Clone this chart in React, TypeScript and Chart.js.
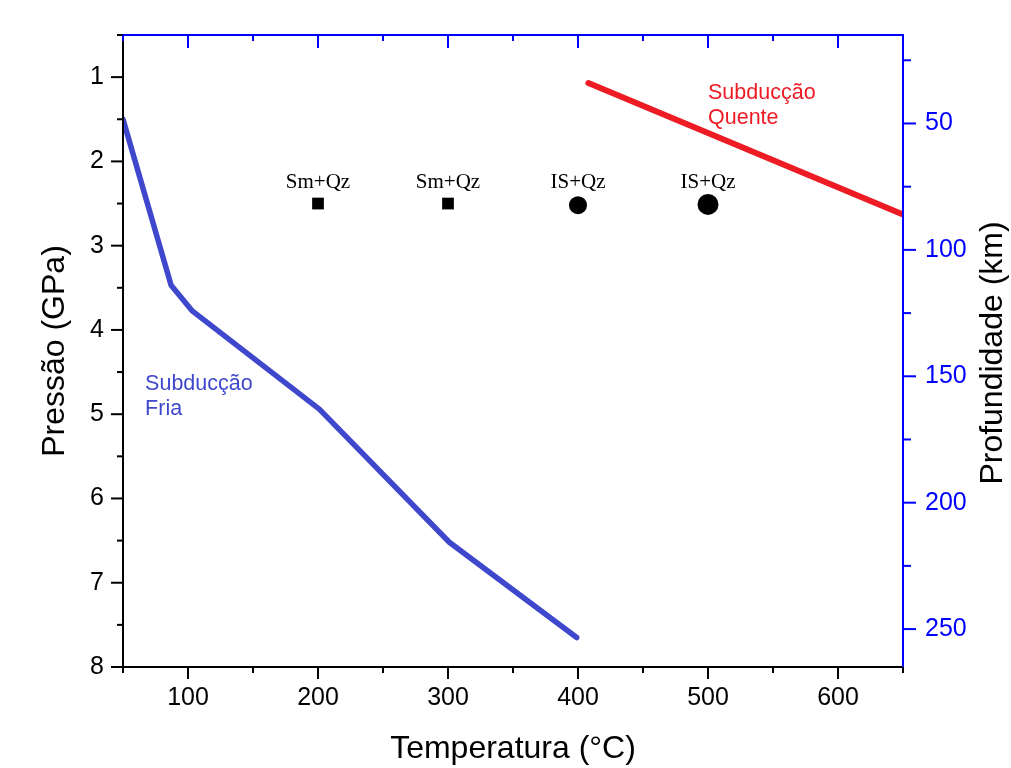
import React, { useEffect, useRef } from 'react';
import { Chart, registerables } from 'chart.js';

Chart.register(...registerables);

// ---- data ----
const COLD_TEMP = [50, 87, 103, 201, 301, 399];
const COLD_PRESSURE = [1.5, 3.47, 3.77, 4.94, 6.52, 7.65];
const HOT_TEMP = [408, 650];
const HOT_PRESSURE = [1.07, 2.63];
const SM_TEMP = [200, 300];
const SM_PRESSURE = [2.5, 2.5];
const IS_TEMP = [400, 500];
const IS_PRESSURE = [2.52, 2.51];
const SM_LABEL = 'Sm+Qz';
const IS_LABEL = 'IS+Qz';
const COLD_NOTE = ['Subducção', 'Fria'];
const HOT_NOTE = ['Subducção', 'Quente'];
const COLD_NOTE_AT = { t: 67, p: 4.71 };
const HOT_NOTE_AT = { t: 500, p: 1.265 };

// ---- ticks ----
const X_TICKS = [100, 200, 300, 400, 500, 600];
const X_MINOR = [50, 150, 250, 350, 450, 550, 650];
const P_TICKS = [1, 2, 3, 4, 5, 6, 7, 8];
const P_MINOR = [0.5, 1.5, 2.5, 3.5, 4.5, 5.5, 6.5, 7.5];
const DEPTH_TICKS = [50, 100, 150, 200, 250];
const DEPTH_MINOR = [25, 75, 125, 175, 225];

const X_TITLE = 'Temperatura (°C)';
const Y_TITLE = 'Pressão (GPa)';
const Y2_TITLE = 'Profundidade (km)';

const BLUE_AXIS = '#0000FF';
const COLD_COLOR = '#3F48CC';
const HOT_COLOR = '#ED1C24';
const SANS = "'Liberation Sans', Arial, sans-serif";
const SERIF = "'Liberation Serif', 'Times New Roman', serif";

const toXY = (xs: number[], ys: number[]) => xs.map((v, i) => ({ x: v, y: ys[i] }));

const decorPlugin = {
  id: 'decor',
  afterDatasetsDraw(chart: any) {
    const { ctx, chartArea, scales } = chart;
    const { left, right, top, bottom } = chartArea;
    const x = scales.x;
    const y = scales.y;
    const y2 = scales.y2;
    ctx.save();
    const line = (x1: number, y1: number, x2: number, y2_: number, color: string, w = 2) => {
      ctx.strokeStyle = color;
      ctx.lineWidth = w;
      ctx.beginPath();
      ctx.moveTo(x1, y1);
      ctx.lineTo(x2, y2_);
      ctx.stroke();
    };
    // axis lines
    line(left, top, left, bottom + 1, '#000');
    line(left - 1, bottom, right, bottom, '#000');
    line(left - 1, top, right + 1, top, BLUE_AXIS);
    line(right, top, right, bottom, BLUE_AXIS);
    // left ticks
    P_TICKS.forEach((v) => { const p = y.getPixelForValue(v); line(left - 12, p, left, p, '#000'); });
    P_MINOR.forEach((v) => { const p = y.getPixelForValue(v); line(left - 6, p, left, p, '#000'); });
    // bottom ticks
    X_TICKS.forEach((v) => { const p = x.getPixelForValue(v); line(p, bottom, p, bottom + 12, '#000'); });
    X_MINOR.forEach((v) => { const p = x.getPixelForValue(v); line(p, bottom, p, bottom + 6, '#000'); });
    // top ticks (inward)
    X_TICKS.forEach((v) => { const p = x.getPixelForValue(v); line(p, top, p, top + 13, BLUE_AXIS); });
    X_MINOR.forEach((v) => { const p = x.getPixelForValue(v); line(p, top, p, top + 6, BLUE_AXIS); });
    // right ticks (outward)
    DEPTH_TICKS.forEach((v) => { const p = y2.getPixelForValue(v); line(right, p, right + 13, p, BLUE_AXIS); });
    DEPTH_MINOR.forEach((v) => { const p = y2.getPixelForValue(v); line(right, p, right + 8, p, BLUE_AXIS); });

    // point labels
    ctx.fillStyle = '#000';
    ctx.font = `21px ${SERIF}`;
    ctx.textAlign = 'center';
    ctx.textBaseline = 'alphabetic';
    SM_TEMP.forEach((t, i) => {
      ctx.fillText(SM_LABEL, x.getPixelForValue(t), y.getPixelForValue(SM_PRESSURE[i]) - 16);
    });
    IS_TEMP.forEach((t) => {
      ctx.fillText(IS_LABEL, x.getPixelForValue(t), y.getPixelForValue(SM_PRESSURE[0]) - 16);
    });

    // notes
    ctx.font = `21.5px ${SANS}`;
    ctx.textAlign = 'left';
    ctx.fillStyle = COLD_COLOR;
    COLD_NOTE.forEach((s, i) => {
      ctx.fillText(s, x.getPixelForValue(COLD_NOTE_AT.t), y.getPixelForValue(COLD_NOTE_AT.p) + i * 25);
    });
    ctx.fillStyle = HOT_COLOR;
    HOT_NOTE.forEach((s, i) => {
      ctx.fillText(s, x.getPixelForValue(HOT_NOTE_AT.t), y.getPixelForValue(HOT_NOTE_AT.p) + i * 25);
    });

    // right axis title, reading bottom-to-top
    ctx.fillStyle = '#000';
    ctx.font = `32px ${SANS}`;
    ctx.textAlign = 'center';
    ctx.textBaseline = 'middle';
    ctx.translate(993, (top + bottom) / 2 + 2);
    ctx.rotate(-Math.PI / 2);
    ctx.fillText(Y2_TITLE, 0, 0);
    ctx.restore();
  },
};

export default function App() {
  const ref = useRef<HTMLCanvasElement | null>(null);

  useEffect(() => {
    if (!ref.current) return;
    Chart.defaults.font.family = SANS;
    const chart = new Chart(ref.current, {
      type: 'scatter',
      data: {
        datasets: [
          {
            label: 'Subducção Fria',
            data: toXY(COLD_TEMP, COLD_PRESSURE),
            showLine: true,
            borderColor: COLD_COLOR,
            backgroundColor: COLD_COLOR,
            borderWidth: 5.5,
            pointRadius: 0,
            borderCapStyle: 'round',
            borderJoinStyle: 'round',
            xAxisID: 'x',
            yAxisID: 'y',
          },
          {
            label: 'Subducção Quente',
            data: toXY(HOT_TEMP, HOT_PRESSURE),
            showLine: true,
            borderColor: HOT_COLOR,
            backgroundColor: HOT_COLOR,
            borderWidth: 6,
            pointRadius: 0,
            borderCapStyle: 'round',
            xAxisID: 'x',
            yAxisID: 'y',
          },
          {
            label: SM_LABEL,
            data: toXY(SM_TEMP, SM_PRESSURE),
            showLine: false,
            pointStyle: 'rect',
            pointRadius: 8.3,
            pointBorderWidth: 0,
            backgroundColor: '#000',
            borderColor: '#000',
            xAxisID: 'x',
            yAxisID: 'y',
          },
          {
            label: IS_LABEL,
            data: toXY(IS_TEMP, IS_PRESSURE),
            showLine: false,
            pointStyle: 'circle',
            pointRadius: [9, 10.5],
            pointBorderWidth: 0,
            backgroundColor: '#000',
            borderColor: '#000',
            xAxisID: 'x',
            yAxisID: 'y',
          },
        ],
      },
      options: {
        responsive: false,
        animation: false,
        devicePixelRatio: 1,
        layout: { padding: { top: 35, left: 0, right: 0, bottom: 0 } },
        plugins: { legend: { display: false }, tooltip: { enabled: false } },
        scales: {
          x: {
            type: 'linear',
            position: 'bottom',
            min: 50,
            max: 650,
            afterBuildTicks: (s: any) => { s.ticks = X_TICKS.map((v) => ({ value: v })); },
            afterFit: (s: any) => { s.height = 101; },
            grid: { display: false, drawTicks: true, tickLength: 12 },
            border: { display: false },
            ticks: { color: '#000', font: { size: 25 }, padding: 4, maxRotation: 0, autoSkip: false },
            title: { display: true, text: X_TITLE, color: '#000', font: { size: 32 }, padding: { top: 0, bottom: 0 } },
          },
          y: {
            type: 'linear',
            position: 'left',
            reverse: true,
            min: 0.5,
            max: 8,
            afterBuildTicks: (s: any) => { s.ticks = P_TICKS.map((v) => ({ value: v })); },
            afterFit: (s: any) => { s.width = 123; },
            grid: { display: false, drawTicks: true, tickLength: 12 },
            border: { display: false },
            ticks: { color: '#000', font: { size: 25 }, padding: 7, autoSkip: false },
            title: { display: true, text: Y_TITLE, color: '#000', font: { size: 32 }, padding: { top: 36, bottom: 0 } },
          },
          y2: {
            type: 'linear',
            position: 'right',
            reverse: true,
            min: 15,
            max: 265,
            afterBuildTicks: (s: any) => { s.ticks = DEPTH_TICKS.map((v) => ({ value: v })); },
            afterFit: (s: any) => { s.width = 108; },
            grid: { display: false, drawTicks: true, tickLength: 13 },
            border: { display: false },
            ticks: { color: BLUE_AXIS, font: { size: 25 }, padding: 9, autoSkip: false },
          },
        },
      },
      plugins: [decorPlugin],
    } as any);
    return () => chart.destroy();
  }, []);

  return (
    <div style={{ position: 'absolute', left: 0, top: 0, width: 1011, height: 768, background: '#fff' }}>
      <canvas ref={ref} width={1011} height={768} style={{ display: 'block' }} />
    </div>
  );
}
